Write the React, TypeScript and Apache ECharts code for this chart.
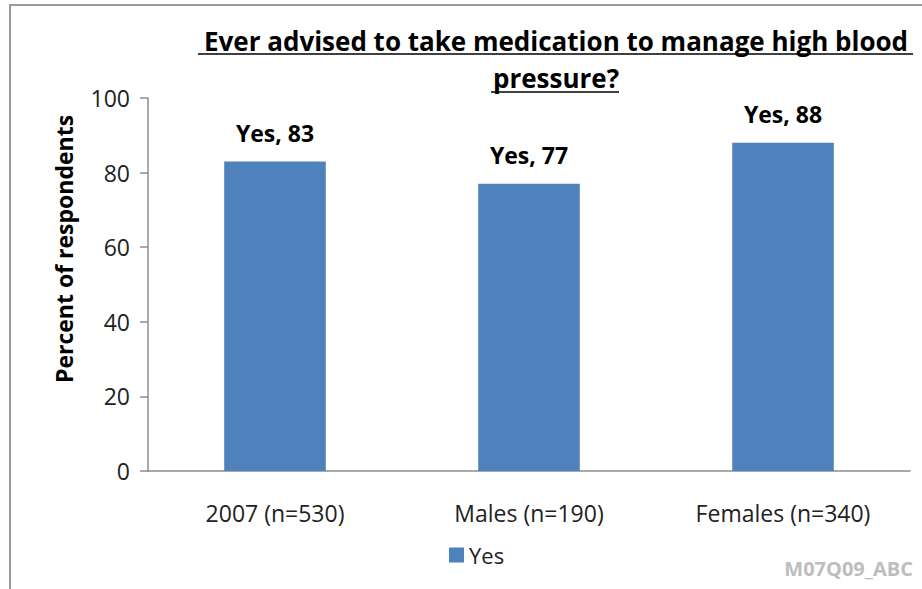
import React, { useEffect, useRef } from "react";
import * as echarts from "echarts";

const categories = ["2007 (n=530)", "Males (n=190)", "Females (n=340)"];
const yesValues = [83, 77, 88];
const seriesName = "Yes";
const titleLines = ["Ever advised to take medication to manage high blood", "pressure?"];
const yAxisTitle = "Percent of respondents";
const footnote = "M07Q09_ABC";

const FONT = "'Open Sans', sans-serif";

export default function App() {
  const ref = useRef<HTMLDivElement>(null);
  useEffect(() => {
    if (!ref.current) return;
    const chart = echarts.init(ref.current, null, { renderer: "svg" });
    chart.setOption({
      animation: false,
      backgroundColor: "#ffffff",
      textStyle: { fontFamily: FONT },
      title: {
        text: titleLines.join("\n"),
        left: 551,
        top: 17,
        textAlign: "center",
        textStyle: {
          fontFamily: FONT,
          fontSize: 26,
          fontWeight: "bold",
          color: "#000",
          lineHeight: 37,
        },
      },
      legend: {
        data: [seriesName],
        left: 444,
        top: 539,
        itemWidth: 15,
        itemHeight: 15,
        itemGap: 6,
        icon: "rect",
        textStyle: { fontFamily: FONT, fontSize: 22, color: "#222" },
      },
      grid: { left: 148, right: 12, top: 98, bottom: 118 },
      xAxis: {
        type: "category",
        data: categories,
        axisLine: { lineStyle: { color: "#8c8c8c", width: 1.5 } },
        axisTick: { show: false },
        axisLabel: { fontFamily: FONT, fontSize: 23, color: "#222", margin: 30 },
      },
      yAxis: {
        type: "value",
        min: 0,
        max: 100,
        interval: 20,
        axisLine: { show: true, lineStyle: { color: "#8c8c8c", width: 1.5 } },
        axisTick: { show: true, length: 8, lineStyle: { color: "#8c8c8c", width: 1.5 } },
        splitLine: { show: false },
        axisLabel: { fontFamily: FONT, fontSize: 23, color: "#222", margin: 18 },
      },
      series: [
        {
          name: seriesName,
          type: "bar",
          data: yesValues,
          barWidth: "40%",
          itemStyle: { color: "#4f81bd" },
          label: {
            show: true,
            position: "top",
            distance: 17,
            formatter: (p: any) => `${p.seriesName}, ${p.value}`,
            fontFamily: FONT,
            fontSize: 23,
            fontWeight: "bold",
            color: "#000",
          },
        },
      ],
      graphic: [
        {
          type: "rect",
          shape: { x: 10, y: 5, width: 1200, height: 1200 },
          style: { fill: "none", stroke: "#9a9a9a", lineWidth: 2 },
          silent: true,
        },
        {
          type: "line",
          shape: { x1: 198, y1: 54, x2: 913, y2: 54 },
          style: { stroke: "#000", lineWidth: 1.5 },
        },
        {
          type: "line",
          shape: { x1: 491, y1: 92, x2: 619, y2: 92 },
          style: { stroke: "#000", lineWidth: 1.5 },
        },
        {
          type: "text",
          x: 64,
          y: 249,
          rotation: Math.PI / 2,
          style: {
            text: yAxisTitle,
            fontFamily: FONT,
            fontSize: 23,
            fontWeight: "bold",
            fill: "#000",
            textAlign: "center",
            textVerticalAlign: "middle",
          },
        },
        {
          type: "text",
          right: 9,
          top: 558,
          style: {
            text: footnote,
            fontFamily: FONT,
            fontSize: 20,
            fontWeight: "bold",
            fill: "#bdbdbd",
          },
        },
      ],
    });
    return () => chart.dispose();
  }, []);
  return (
    <div
      ref={ref}
      style={{ position: "fixed", left: 0, top: 0, width: 922, height: 589 }}
    />
  );
}
